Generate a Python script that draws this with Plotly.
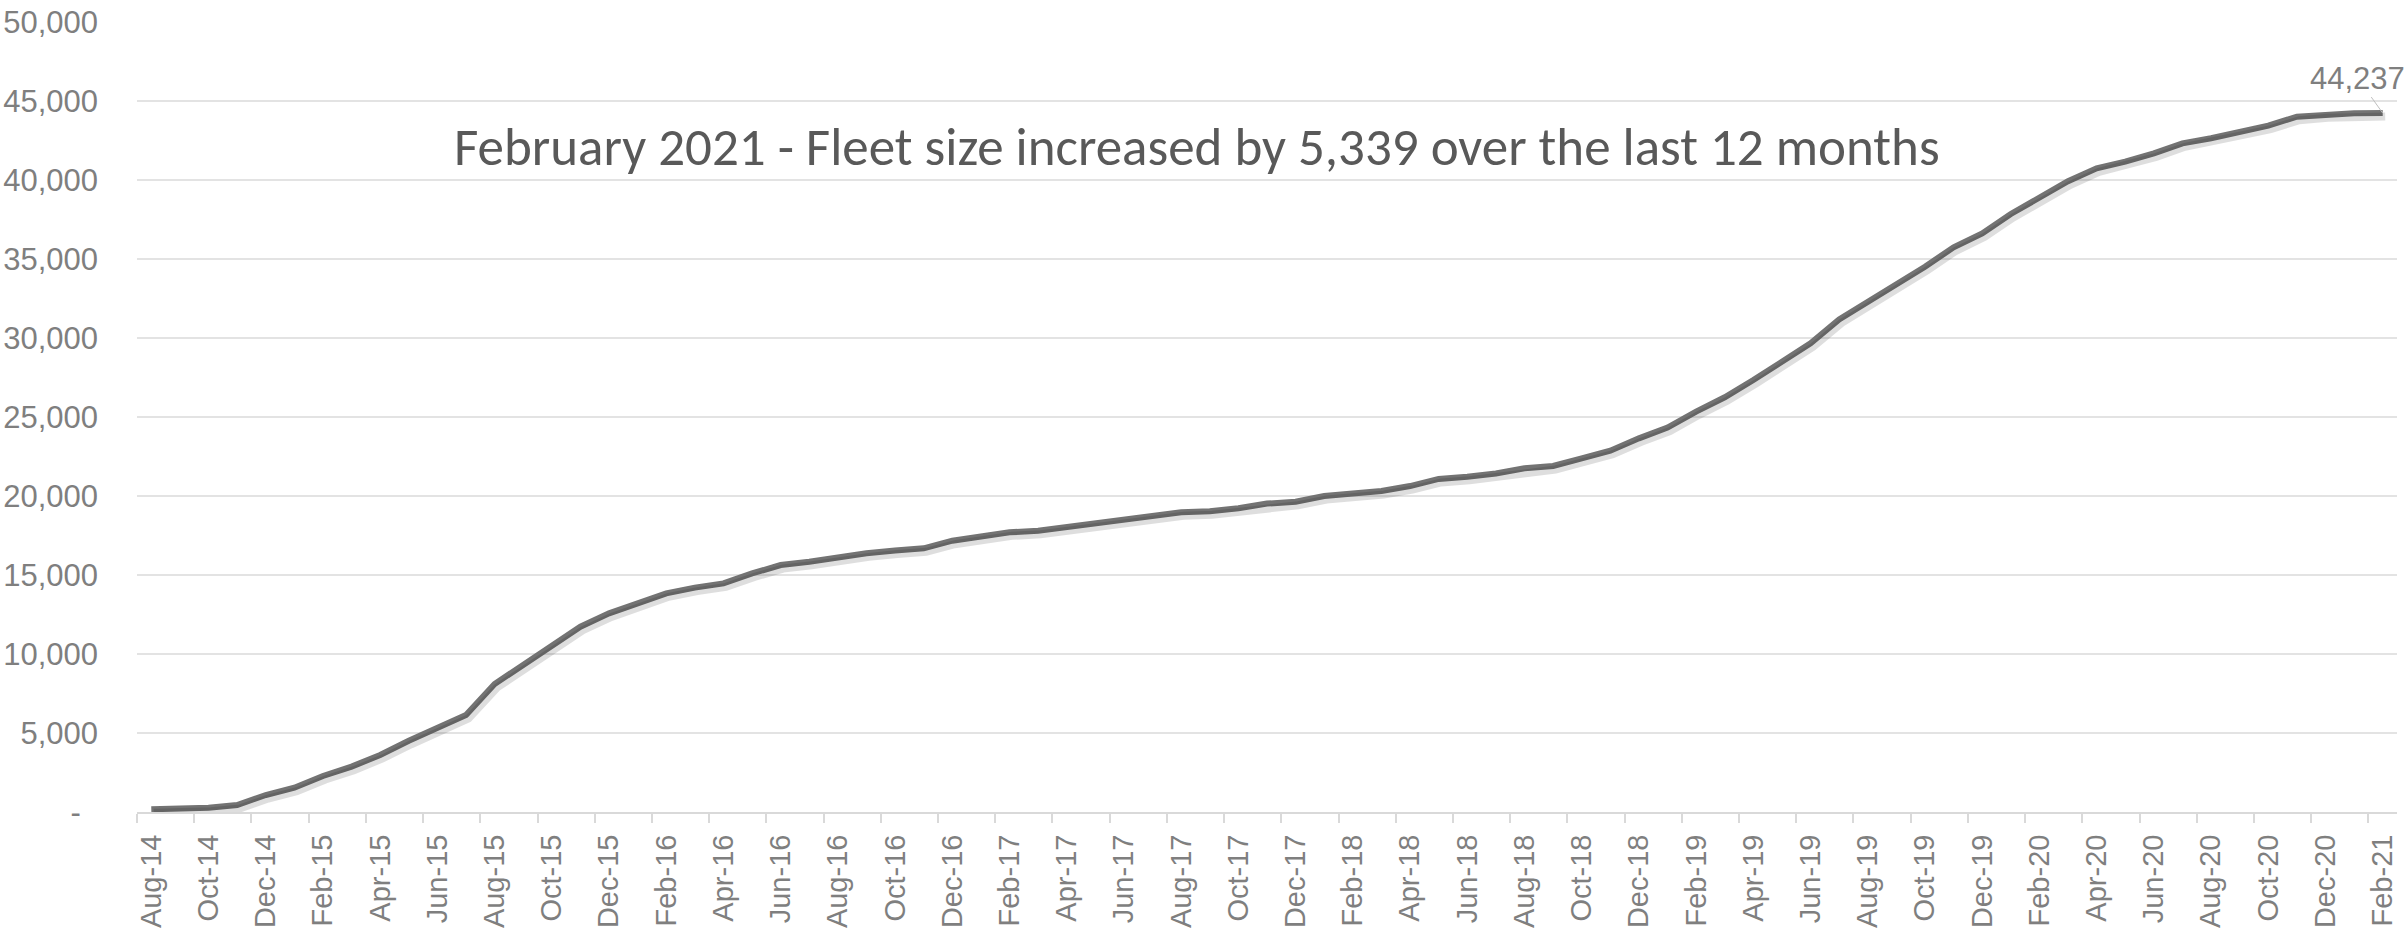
import pandas as pd
import plotly.graph_objects as go

# Monthly fleet size, Aug 2014 - Feb 2021
months = list(pd.date_range("2014-08-01", periods=79, freq="MS").strftime("%b-%y"))
fleet = [
    170, 210, 270, 440, 1075, 1540, 2280, 2870, 3610, 4510,
    5290, 6140, 8100, 9300, 10460, 11730, 12570, 13200, 13840, 14200,
    14470, 15100, 15630, 15840, 16120, 16370, 16550, 16690, 17170, 17470,
    17700, 17800, 18020, 18230, 18520, 18750, 18970, 19030, 19220, 19520,
    19640, 20000, 20170, 20320, 20630, 21080, 21220, 21430, 21750, 21900,
    22380, 22870, 23650, 24330, 25340, 26250, 27340, 28460, 29660, 31180,
    32300, 33350, 34510, 35740, 36620, 37850, 38898, 39920, 40740, 41160,
    41690, 42320, 42640, 43060, 43440, 44010, 44160, 44220, 44237,
]
y_ticks = [0, 5000, 10000, 15000, 20000, 25000, 30000, 35000, 40000, 45000, 50000]
y_tick_text = ["-\u00a0\u00a0"] + [f"{v:,}" for v in y_ticks[1:]]
headline = "February 2021 - Fleet size increased by 5,339 over the last 12 months"

idx = list(range(len(months)))
label_idx = idx[::2]
boundaries = [i - 0.5 for i in label_idx]

W, H = 2407, 933
L, R, T, B = 137, 10, 22, 121
plot_w, plot_h = W - L - R, H - T - B
x_rng = [-0.5, len(months) - 0.5]
y_rng = [0, 50000]
# shadow offset (px) expressed in axis units
sx = 2.5 * (x_rng[1] - x_rng[0]) / plot_w
sy = 3.5 * (y_rng[1] - y_rng[0]) / plot_h

grey_txt = "#7f7f7f"
grid = "#e3e3e3"

fig = go.Figure()

# soft drop shadow under the line
fig.add_trace(go.Scatter(
    x=idx, y=fleet, mode="lines", xaxis="x2", yaxis="y2",
    line=dict(color="rgba(0,0,0,0.13)", width=8), hoverinfo="skip", showlegend=False,
))
fig.add_trace(go.Scatter(
    x=idx, y=fleet, mode="lines",
    line=dict(color="#737373", width=6), showlegend=False,
))

fig.update_layout(
    width=W, height=H,
    margin=dict(l=L, r=R, t=T, b=B, autoexpand=False),
    paper_bgcolor="white", plot_bgcolor="white",
    xaxis=dict(
        range=x_rng, tickmode="array", tickvals=label_idx,
        ticktext=[months[i] for i in label_idx], tickangle=-90,
        ticks="outside", ticklen=8, tickcolor="rgba(0,0,0,0)",
        ticklabelstandoff=1,
        minor=dict(tickmode="array", tickvals=boundaries, ticks="outside",
                   ticklen=9, tickcolor="#d9d9d9", tickwidth=2, showgrid=False),
        showgrid=False, zeroline=False,
        showline=True, linecolor="#d9d9d9", linewidth=2,
        tickfont=dict(family="Arial, Liberation Sans", size=29, color=grey_txt),
    ),
    yaxis=dict(
        range=y_rng, tickmode="array", tickvals=y_ticks, ticktext=y_tick_text,
        showgrid=True, gridcolor=grid, gridwidth=2, zeroline=False,
        ticks="", ticklabelstandoff=38,
        tickfont=dict(family="Arial, Liberation Sans", size=31, color=grey_txt),
    ),
    xaxis2=dict(overlaying="x", range=[x_rng[0] - sx, x_rng[1] - sx], visible=False),
    yaxis2=dict(overlaying="y", range=[y_rng[0] + sy, y_rng[1] + sy], visible=False),
)

fig.add_annotation(
    xref="paper", yref="paper", x=0.469, y=0.842,
    xanchor="center", yanchor="middle",
    text=headline, showarrow=False,
    font=dict(family="Calibri, Carlito, Open Sans, sans-serif", size=53, color="#595959"),
)

fig.add_annotation(
    x=idx[-1], y=fleet[-1], text=f"{fleet[-1]:,}",
    showarrow=True, arrowhead=0, arrowwidth=1, arrowcolor="#bfbfbf",
    ax=-25, ay=-35,
    font=dict(family="Arial, Liberation Sans", size=31, color=grey_txt),
)

fig.write_html("out.html")
